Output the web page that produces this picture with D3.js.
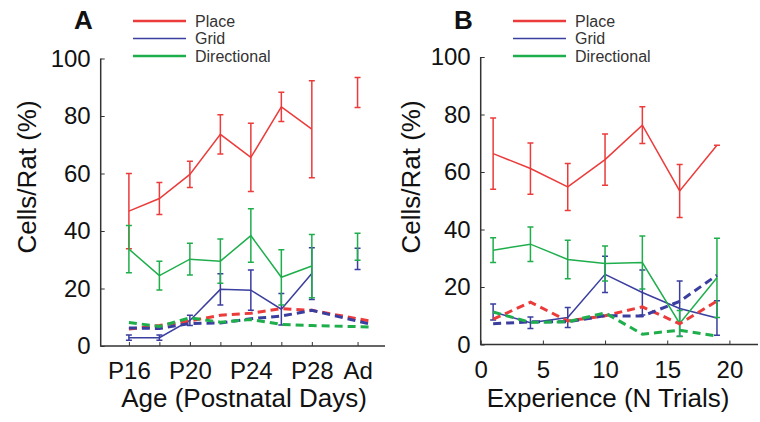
<!DOCTYPE html>
<html>
<head>
<meta charset="utf-8">
<script src="https://cdn.jsdelivr.net/npm/d3@7"></script>
<style>
  html, body { margin: 0; padding: 0; background: #fff; }
  svg { display: block; font-family: "Liberation Sans", Arial, Helvetica, sans-serif; }
</style>
</head>
<body>
<svg id="chart" width="760" height="422"></svg>
<script>
// ---------------- DATA ----------------
const seriesNames = ["Place", "Grid", "Directional"];
const seriesColors = ["#ec3b3b", "#3a3e9f", "#1fae4c"];

// Panel A: age (postnatal days); "Ad" = adult
const agesA = [16, 18, 20, 22, 24, 26, 28];
const adultX = 31;
const shuffleXA = [16, 18, 20, 22, 24, 26, 28, 32];
const tickValsA = [16, 18, 20, 22, 24, 26, 28, 31];
const tickLabelsA = { 16: "P16", 20: "P20", 24: "P24", 28: "P28", 31: "Ad" };

const placeA = [46.9, 51.3, 59.7, 73.6, 65.6, 83.2, 75.4];
const placeAErr = [13.1, 5.6, 4.6, 6.8, 11.9, 5.1, 16.9];
const gridA = [2.9, 2.9, 8.9, 19.7, 19.4, 12.8, 25.2];
const gridAErr = [0.9, 0.9, 1.8, 5.4, 7.0, 5.5, 9.0];
const dirA = [33.7, 24.5, 30.2, 29.5, 38.4, 23.9, 27.8];
const dirAErr = [8.2, 5.0, 5.5, 7.7, 9.3, 9.6, 11.0];
const adultMean = [88.2, 30.3, 34.5];
const adultErr = [5.2, 3.7, 4.7];

const placeShufA = [5.9, 7.1, 8.7, 10.7, 11.4, 13.0, 12.4, 8.5];
const gridShufA = [6.3, 6.1, 7.8, 8.0, 9.5, 10.4, 12.4, 7.4];
const dirShufA = [8.2, 6.8, 9.8, 8.3, 9.2, 7.5, 7.1, 6.6];

// Panel B: experience (N trials)
const trialsB = [1, 4, 7, 10, 13, 16, 19];
const tickValsB = [0, 5, 10, 15, 20];

const placeB = [66.4, 61.2, 54.8, 64.3, 76.3, 53.4, 69.3];
const placeBErr = [12.4, 8.9, 8.2, 8.9, 6.4, 9.2, 0];
const gridB = [11.3, 7.6, 9.4, 24.4, 18.1, 12.5, 9.2];
const gridBErr = [2.8, 2.0, 3.5, 6.3, 7.8, 9.6, 6.0];
const dirB = [32.8, 34.9, 29.6, 28.2, 28.5, 7.3, 23.2];
const dirBErr = [4.3, 6.0, 6.7, 6.1, 9.2, 4.5, 13.8];

const placeShufB = [8.8, 14.7, 8.2, 10.0, 13.1, 7.2, 15.1];
const gridShufB = [7.2, 7.9, 7.9, 10.0, 9.9, 15.0, 24.1];
const dirShufB = [11.3, 7.7, 7.9, 11.0, 3.6, 5.0, 2.9];

const yTicks = [0, 20, 40, 60, 80, 100];

// ---------------- DRAWING ----------------
const svg = d3.select("#chart");
const axisColor = "#333";

function drawPanel(cfg) {
  const g = svg.append("g");
  const x = d3.scaleLinear().domain(cfg.xDomain).range(cfg.xRange);
  const y = d3.scaleLinear().domain([0, 100]).range(cfg.yRange);

  // axes
  const yAxis = d3.axisLeft(y).tickValues(yTicks).tickSize(-4).tickPadding(10);
  const gy = g.append("g").attr("transform", `translate(${cfg.xRange[0]},0)`).call(yAxis);
  const xAxis = d3.axisBottom(x).tickValues(cfg.xTicks).tickSize(-4).tickPadding(16)
    .tickFormat(cfg.xFormat);
  const gx = g.append("g").attr("transform", `translate(0,${cfg.yRange[0]})`).call(xAxis);
  [gx, gy].forEach(a => {
    a.select(".domain").remove();
    a.selectAll(".tick line").attr("stroke", axisColor).attr("stroke-width", 1);
    a.selectAll(".tick text").attr("fill", "#111").style("font-size", "24px")
      .style("font-family", "'Liberation Sans', Arial, sans-serif");
  });
  gx.selectAll(".tick text").attr("dy", "0.71em");
  gx.selectAll(".tick text").filter(function () { return this.textContent === ""; }).remove();
  g.append("path")
    .attr("d", `M${cfg.xRange[0]},${cfg.yRange[1]}V${cfg.yRange[0]}H${cfg.xRange[1]}`)
    .attr("fill", "none").attr("stroke", axisColor).attr("stroke-width", 1.5);

  const line = d3.line().x(d => x(d[0])).y(d => y(d[1]));

  // solid series with error bars
  cfg.solid.forEach((s, i) => {
    const pts = cfg.xs.map((xv, j) => [xv, s.mean[j], s.err[j]]);
    g.append("path").datum(pts).attr("d", line)
      .attr("fill", "none").attr("stroke", seriesColors[i]).attr("stroke-width", 1.5);
    const allBars = pts.concat(s.extra || []);
    const eb = g.append("g").attr("stroke", seriesColors[i]).attr("stroke-width", 1.5).attr("fill", "none");
    allBars.forEach(p => {
      if (p[2] <= 0) {
        eb.append("line").attr("x1", x(p[0]) - 3).attr("x2", x(p[0]) + 3)
          .attr("y1", y(p[1])).attr("y2", y(p[1]));
        return;
      }
      const cx = x(p[0]), y1 = y(p[1] + p[2]), y2 = y(p[1] - p[2]);
      eb.append("path").attr("d",
        `M${cx},${y1}V${y2}M${cx - 3},${y1}H${cx + 3}M${cx - 3},${y2}H${cx + 3}`);
    });
  });

  // dashed (shuffled) series
  cfg.dashed.forEach((vals, i) => {
    const pts = cfg.dashXs.map((xv, j) => [xv, vals[j]]);
    g.append("path").datum(pts).attr("d", line)
      .attr("fill", "none").attr("stroke", seriesColors[i]).attr("stroke-width", 3)
      .attr("stroke-dasharray", "8,5");
  });

  // legend
  const lg = g.append("g");
  seriesNames.forEach((n, i) => {
    const ly = cfg.legendY + i * 17.5;
    lg.append("line").attr("x1", cfg.legendX).attr("x2", cfg.legendX + 53)
      .attr("y1", ly).attr("y2", ly).attr("stroke", seriesColors[i])
      .attr("stroke-width", i === 1 ? 1.5 : 2.5);
    lg.append("text").attr("x", cfg.legendX + 62).attr("y", ly).attr("dy", "0.36em")
      .attr("fill", "#333").style("font-size", "16px").text(n);
  });

  // panel letter
  g.append("text").attr("x", cfg.letterX).attr("y", 29).attr("fill", "#111")
    .style("font-size", "26px").style("font-weight", "bold").text(cfg.letter);

  // axis titles
  g.append("text").attr("x", cfg.titleX).attr("y", 407).attr("text-anchor", "middle")
    .attr("fill", "#111").style("font-size", "26px").text(cfg.xTitle);
  g.append("text").attr("transform", `translate(${cfg.yTitleX},177) rotate(-90)`)
    .attr("text-anchor", "middle").attr("fill", "#111").style("font-size", "26px")
    .text("Cells/Rat (%)");
}

drawPanel({
  letter: "A", letterX: 74,
  xDomain: [14.15, 32.8], xRange: [100.7, 385], yRange: [346, 58.5],
  xTicks: tickValsA, xFormat: d => tickLabelsA[d] || "",
  xs: agesA,
  solid: [
    { mean: placeA, err: placeAErr, extra: [[adultX, adultMean[0], adultErr[0]]] },
    { mean: gridA, err: gridAErr, extra: [[adultX, adultMean[1], adultErr[1]]] },
    { mean: dirA, err: dirAErr, extra: [[adultX, adultMean[2], adultErr[2]]] }
  ],
  dashXs: shuffleXA,
  dashed: [placeShufA, gridShufA, dirShufA],
  legendX: 133, legendY: 21,
  titleX: 244, xTitle: "Age (Postnatal Days)", yTitleX: 36
});

drawPanel({
  letter: "B", letterX: 454,
  xDomain: [0, 22.3], xRange: [480.7, 758], yRange: [344.5, 57],
  xTicks: tickValsB, xFormat: d3.format("d"),
  xs: trialsB,
  solid: [
    { mean: placeB, err: placeBErr },
    { mean: gridB, err: gridBErr },
    { mean: dirB, err: dirBErr }
  ],
  dashXs: trialsB,
  dashed: [placeShufB, gridShufB, dirShufB],
  legendX: 513, legendY: 21,
  titleX: 608, xTitle: "Experience (N Trials)", yTitleX: 420
});
</script>
</body>
</html>
